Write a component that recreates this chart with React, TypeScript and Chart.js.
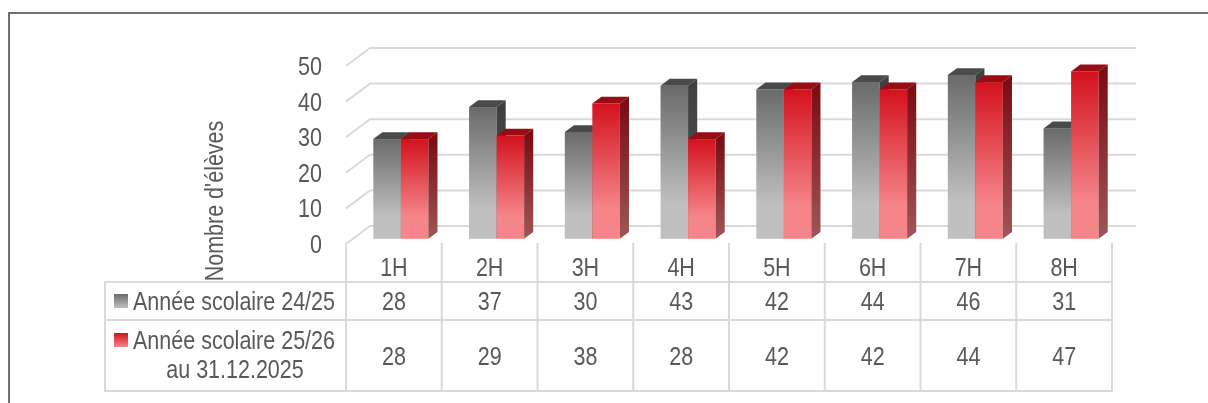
import React, { useEffect, useRef } from "react";
import { Chart, registerables } from "chart.js";

Chart.register(...registerables);

// ---------- data ----------
const categories = ["1H", "2H", "3H", "4H", "5H", "6H", "7H", "8H"];
const seriesA = [28, 37, 30, 43, 42, 44, 46, 31]; // Année scolaire 24/25
const seriesB = [28, 29, 38, 28, 42, 42, 44, 47]; // Année scolaire 25/26 au 31.12.2025
const seriesNames = ["Année scolaire 24/25", "Année scolaire 25/26 au 31.12.2025"];
const legendLinesA = ["Année scolaire 24/25"];
const legendLinesB = ["Année scolaire 25/26", "au 31.12.2025"];
const yMin = 0;
const yMax = 50;
const yStep = 10;
const axisTitle = "Nombre d'élèves";

// ---------- styles ----------
const FONT = '"Liberation Sans", Arial, sans-serif';
const FONT_SIZE = 25;
const SX = 0.86;
const TEXT = "#595959";
const LINE = "#d9d9d9";
const DEPTH = { x: 24, y: -18 };
const T0 = 0.29;
const T1 = 0.67;

const palettes = [
  { front: ["#6a6a6a", "#c0c0c0"], top: "#4a4a4a", side: ["#3f3f3f", "#555555"] },
  { front: ["#d3121e", "#f5858a"], top: "#9a0c14", side: ["#7c0d12", "#9f5659"] },
];

function drawText(
  ctx: CanvasRenderingContext2D,
  s: string,
  x: number,
  y: number,
  align: CanvasTextAlign,
  rotate = 0
) {
  ctx.save();
  ctx.translate(x, y);
  if (rotate) ctx.rotate(rotate);
  ctx.scale(SX, 1);
  ctx.font = `${FONT_SIZE}px ${FONT}`;
  ctx.fillStyle = TEXT;
  ctx.textAlign = align;
  ctx.textBaseline = "alphabetic";
  ctx.fillText(s, 0, 0);
  ctx.restore();
}

function swatch(ctx: CanvasRenderingContext2D, x: number, y: number, pal: any) {
  const g = ctx.createLinearGradient(0, y, 0, y + 14);
  g.addColorStop(0, pal.front[0]);
  g.addColorStop(1, pal.front[1]);
  ctx.fillStyle = g;
  ctx.fillRect(x, y, 14, 14);
}

const bar3dPlugin = {
  id: "bar3d",
  beforeDatasetsDraw(chart: any) {
    const ctx: CanvasRenderingContext2D = chart.ctx;
    const ys = chart.scales.y;
    const area = chart.chartArea;
    ctx.save();
    ctx.strokeStyle = LINE;
    ctx.lineWidth = 2;
    ys.ticks.forEach((t: any) => {
      const yF = ys.getPixelForValue(t.value);
      ctx.beginPath();
      ctx.moveTo(area.left, yF);
      ctx.lineTo(area.left + DEPTH.x, yF + DEPTH.y);
      ctx.lineTo(area.right + DEPTH.x, yF + DEPTH.y);
      ctx.stroke();
    });
    ctx.restore();
  },
  afterDatasetsDraw(chart: any) {
    const ctx: CanvasRenderingContext2D = chart.ctx;
    const n = chart.data.labels.length;
    const ox = T0 * DEPTH.x;
    const oy = T0 * DEPTH.y;
    const dx = (T1 - T0) * DEPTH.x;
    const dy = (T1 - T0) * DEPTH.y;
    ctx.save();
    for (let i = 0; i < n; i++) {
      chart.data.datasets.forEach((_: any, d: number) => {
        const el = chart.getDatasetMeta(d).data[i];
        const p = el.getProps(["x", "y", "base", "width"], true);
        const pal = palettes[d];
        const fx = p.x - p.width / 2 + ox;
        const w = p.width;
        const ft = p.y + oy;
        const fb = p.base + oy;
        // front
        const g = ctx.createLinearGradient(0, ft, 0, fb);
        g.addColorStop(0, pal.front[0]);
        g.addColorStop(0.78, pal.front[1]);
        g.addColorStop(1, pal.front[1]);
        ctx.fillStyle = g;
        ctx.fillRect(fx, ft, w, fb - ft);
        // top
        ctx.fillStyle = pal.top;
        ctx.beginPath();
        ctx.moveTo(fx, ft);
        ctx.lineTo(fx + w, ft);
        ctx.lineTo(fx + w + dx, ft + dy);
        ctx.lineTo(fx + dx, ft + dy);
        ctx.closePath();
        ctx.fill();
        // side
        const gs = ctx.createLinearGradient(0, ft, 0, fb);
        gs.addColorStop(0, pal.side[0]);
        gs.addColorStop(1, pal.side[1]);
        ctx.fillStyle = gs;
        ctx.beginPath();
        ctx.moveTo(fx + w, ft);
        ctx.lineTo(fx + w + dx, ft + dy);
        ctx.lineTo(fx + w + dx, fb + dy);
        ctx.lineTo(fx + w, fb);
        ctx.closePath();
        ctx.fill();
      });
    }
    ctx.restore();
  },
  afterDraw(chart: any) {
    const ctx: CanvasRenderingContext2D = chart.ctx;
    const xs = chart.scales.x;
    const ys = chart.scales.y;
    const area = chart.chartArea;
    const labels: string[] = chart.data.labels;
    const n = labels.length;

    // y tick labels
    ys.ticks.forEach((t: any) => {
      const y = ys.getPixelForValue(t.value);
      drawText(ctx, String(t.value), area.left - 24, y + 9, "right");
    });

    // axis title
    drawText(ctx, axisTitle, 223, 201, "center", -Math.PI / 2);

    // table
    const legLeft = 105;
    const headTop = area.bottom - 1;
    const r0 = 282;
    const r1 = 320;
    const r2 = 391;
    const bounds: number[] = [area.left];
    for (let i = 0; i < n - 1; i++) {
      bounds.push((xs.getPixelForValue(i) + xs.getPixelForValue(i + 1)) / 2);
    }
    bounds.push(area.right);

    ctx.save();
    ctx.strokeStyle = LINE;
    ctx.lineWidth = 2;
    ctx.beginPath();
    bounds.forEach((bx) => {
      ctx.moveTo(bx, headTop);
      ctx.lineTo(bx, r2);
    });
    ctx.moveTo(legLeft, r0);
    ctx.lineTo(legLeft, r2);
    [r0, r1, r2].forEach((ry) => {
      ctx.moveTo(legLeft - 1, ry);
      ctx.lineTo(area.right + 1, ry);
    });
    ctx.stroke();
    ctx.restore();

    const data0 = chart.data.datasets[0].data;
    const data1 = chart.data.datasets[1].data;
    for (let i = 0; i < n; i++) {
      const cx = xs.getPixelForValue(i);
      drawText(ctx, labels[i], cx, 276, "center");
      drawText(ctx, String(data0[i]), cx, 310, "center");
      drawText(ctx, String(data1[i]), cx, 365, "center");
    }

    // legend column
    swatch(ctx, 114, 294, palettes[0]);
    drawText(ctx, legendLinesA[0], 133, 310, "left");
    swatch(ctx, 114, 333, palettes[1]);
    drawText(ctx, legendLinesB[0], 133, 349, "left");
    drawText(ctx, legendLinesB[1], 235, 378, "center");

    // outer frame
    ctx.save();
    ctx.strokeStyle = "#6f6f6f";
    ctx.lineWidth = 2;
    ctx.strokeRect(9, 13, 1400, 600);
    ctx.restore();
  },
};

export default function App() {
  const ref = useRef<HTMLCanvasElement>(null);
  useEffect(() => {
    const canvas = ref.current;
    if (!canvas) return;
    const chart = new Chart(canvas, {
      type: "bar",
      data: {
        labels: categories,
        datasets: [
          {
            label: seriesNames[0],
            data: seriesA,
            backgroundColor: "rgba(0,0,0,0)",
            borderWidth: 0,
            categoryPercentage: 0.575,
            barPercentage: 1,
          },
          {
            label: seriesNames[1],
            data: seriesB,
            backgroundColor: "rgba(0,0,0,0)",
            borderWidth: 0,
            categoryPercentage: 0.575,
            barPercentage: 1,
          },
        ],
      },
      options: {
        animation: false,
        responsive: false,
        maintainAspectRatio: false,
        events: [],
        layout: { padding: { left: 0, right: 96, top: 66, bottom: 159 } },
        plugins: {
          legend: { display: false },
          tooltip: { enabled: false },
          title: { display: false },
        },
        scales: {
          x: {
            display: false,
            offset: true,
          },
          y: {
            min: yMin,
            max: yMax,
            ticks: { stepSize: yStep, display: false },
            grid: { display: false, drawTicks: false },
            border: { display: false },
            afterFit: (s: any) => {
              s.width = 346;
            },
          },
        },
      },
      plugins: [bar3dPlugin],
    } as any);
    return () => chart.destroy();
  }, []);
  return (
    <div
      style={{
        position: "fixed",
        left: 0,
        top: 0,
        width: 1208,
        height: 403,
        background: "#ffffff",
      }}
    >
      <canvas ref={ref} width={1208} height={403} style={{ width: 1208, height: 403, display: "block" }} />
    </div>
  );
}
